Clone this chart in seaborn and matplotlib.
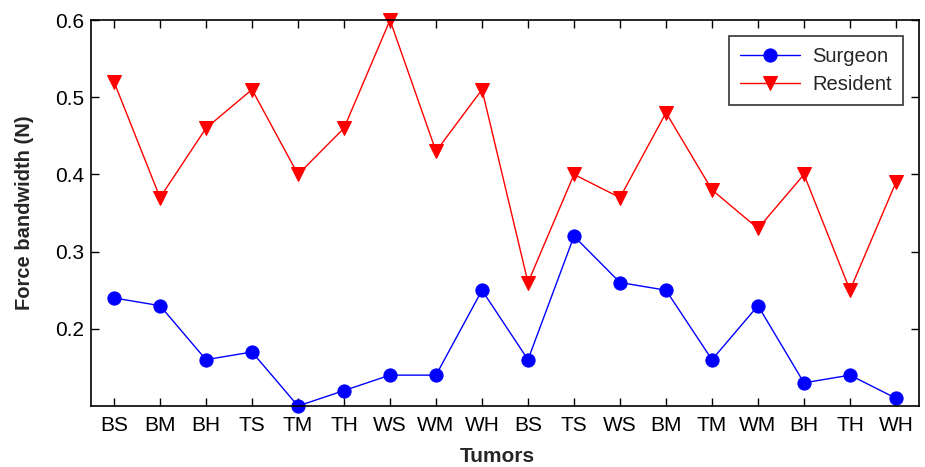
import matplotlib
matplotlib.use("Agg")
import matplotlib.pyplot as plt
import seaborn as sns
import pandas as pd
import numpy as np

tumors = ["BS", "BM", "BH", "TS", "TM", "TH", "WS", "WM", "WH",
          "BS", "TS", "WS", "BM", "TM", "WM", "BH", "TH", "WH"]
surgeon = [0.24, 0.23, 0.16, 0.17, 0.10, 0.12, 0.14, 0.14, 0.25,
           0.16, 0.32, 0.26, 0.25, 0.16, 0.23, 0.13, 0.14, 0.11]
resident = [0.52, 0.37, 0.46, 0.51, 0.40, 0.46, 0.60, 0.43, 0.51,
            0.26, 0.40, 0.37, 0.48, 0.38, 0.33, 0.40, 0.25, 0.39]
yticks = [0.2, 0.3, 0.4, 0.5, 0.6]

sns.set_style("ticks")
plt.rcParams['font.family'] = ['Liberation Sans', 'DejaVu Sans']

pos = np.arange(1, len(tumors) + 1)
df = pd.DataFrame({"pos": pos, "Surgeon": surgeon, "Resident": resident})

fig = plt.figure(figsize=(9.25, 4.67), dpi=100)
ax = fig.add_axes([0.0984, 0.1306, 0.8951, 0.8264])

sns.lineplot(data=df, x="pos", y="Surgeon", ax=ax, color="#0000ff", marker="o",
             markersize=9.5, markeredgecolor="#0000ff", linewidth=1.0,
             label="Surgeon", clip_on=False)
sns.lineplot(data=df, x="pos", y="Resident", ax=ax, color="#ff0000", marker="v",
             markersize=10, markeredgecolor="#ff0000", linewidth=1.0,
             label="Resident", clip_on=False)

ax.set_xlim(0.5, len(tumors) + 0.5)
ax.set_ylim(0.1, 0.6)
ax.set_xticks(pos)
ax.set_xticklabels(tumors)
ax.set_yticks(yticks)
ax.set_yticklabels([f"{v:.1f}" for v in yticks])
ax.tick_params(axis="both", direction="in", length=6, width=1, labelsize=15,
               top=True, right=True, colors="black")
ax.tick_params(axis="x", pad=7)
ax.tick_params(axis="y", pad=5)
for sp in ax.spines.values():
    sp.set_linewidth(1.2)
    sp.set_color("black")
    sp.set_visible(True)

ax.set_xlabel("Tumors", fontsize=15, fontweight="bold")
ax.set_ylabel("Force bandwidth (N)", fontsize=14.5, fontweight="bold")
ax.xaxis.set_label_coords(0.491, -0.105)
ax.yaxis.set_label_coords(-0.069, 0.5)

leg = ax.legend(loc="upper right", fontsize=14.5, frameon=True, fancybox=False,
                edgecolor="black", borderaxespad=0.8, handlelength=3.0,
                borderpad=0.55, labelspacing=0.45, handletextpad=0.6)
leg.get_frame().set_linewidth(1.2)

fig.savefig("out.png", dpi=100)
